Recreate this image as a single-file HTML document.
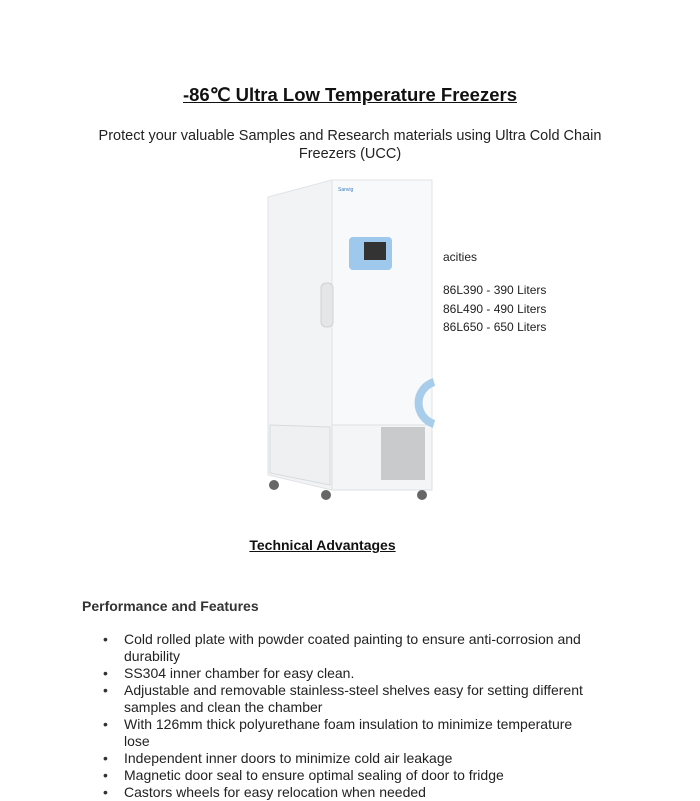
<!DOCTYPE html>
<html><head><meta charset="utf-8"><style>
body{margin:0;background:#fff;width:700px;height:800px;position:relative;overflow:hidden;font-family:"Liberation Sans",sans-serif;color:#111}
.a{position:absolute;white-space:nowrap}
.li{position:absolute;left:124px;font-size:14px;line-height:17px;color:#222}
.b{position:absolute;left:103px;font-size:14px;color:#333}
</style></head><body>
<div class="a" style="left:0;width:700px;top:84px;text-align:center;font-size:18.5px;font-weight:bold;text-decoration:underline">-86℃ Ultra Low Temperature Freezers</div>
<div class="a" style="left:0;width:700px;top:127px;text-align:center;font-size:14.5px;line-height:18px;color:#222">Protect your valuable Samples and Research materials using Ultra Cold Chain<br>Freezers (UCC)</div>

<svg class="a" style="left:260px;top:175px" width="300" height="330">
<polygon points="8,22 72,5 72,315 8,300" fill="#f1f3f5" stroke="#e0e3e6"/>
<rect x="72" y="5" width="100" height="245" fill="#f8f9fa" stroke="#e0e3e6"/>
<rect x="72" y="250" width="100" height="65" fill="#f4f5f6" stroke="#dcdfe2"/>
<polygon points="10,250 70,252 70,310 10,298" fill="#eef0f2" stroke="#d8dbde"/>
<rect x="121" y="252" width="44" height="53" fill="#c8cacc"/>
<path d="M174 207 A22 22 0 0 0 174 249" fill="none" stroke="#a8cdea" stroke-width="8"/>
<rect x="89" y="62" width="43" height="33" rx="4" fill="#9ec8ec"/>
<rect x="104" y="67" width="22" height="18" fill="#333"/>
<rect x="61" y="108" width="12" height="44" rx="5" fill="#e4e6e8" stroke="#cfd2d5"/>
<circle cx="14" cy="310" r="5" fill="#666"/><circle cx="66" cy="320" r="5" fill="#666"/><circle cx="162" cy="320" r="5" fill="#666"/>
<text x="78" y="16" font-size="5" fill="#3a7cc0" font-family="Liberation Sans">Sanvig</text>
</svg>

<div class="a" style="left:443px;top:250px;font-size:12px;color:#222">acities</div>
<div class="a" style="left:443px;top:281px;font-size:12px;line-height:18.5px;color:#222">86L390 - 390 Liters<br>86L490 - 490 Liters<br>86L650 - 650 Liters</div>

<div class="a" style="left:0;width:645px;top:537px;text-align:center;font-size:14px;font-weight:bold;text-decoration:underline">Technical Advantages</div>
<div class="a" style="left:82px;top:598px;font-size:14px;font-weight:bold;color:#333">Performance and Features</div>

<div class="li" style="top:631px">Cold rolled plate with powder coated painting to ensure anti-corrosion and<br>durability</div>
<div class="li" style="top:665px">SS304 inner chamber for easy clean.</div>
<div class="li" style="top:682px">Adjustable and removable stainless-steel shelves easy for setting different<br>samples and clean the chamber</div>
<div class="li" style="top:716px">With 126mm thick polyurethane foam insulation to minimize temperature<br>lose</div>
<div class="li" style="top:750px">Independent inner doors to minimize cold air leakage</div>
<div class="li" style="top:767px">Magnetic door seal to ensure optimal sealing of door to fridge</div>
<div class="li" style="top:784px">Castors wheels for easy relocation when needed</div>
<div class="b" style="top:631px">•</div><div class="b" style="top:665px">•</div><div class="b" style="top:682px">•</div><div class="b" style="top:716px">•</div><div class="b" style="top:750px">•</div><div class="b" style="top:767px">•</div><div class="b" style="top:784px">•</div>
</body></html>
